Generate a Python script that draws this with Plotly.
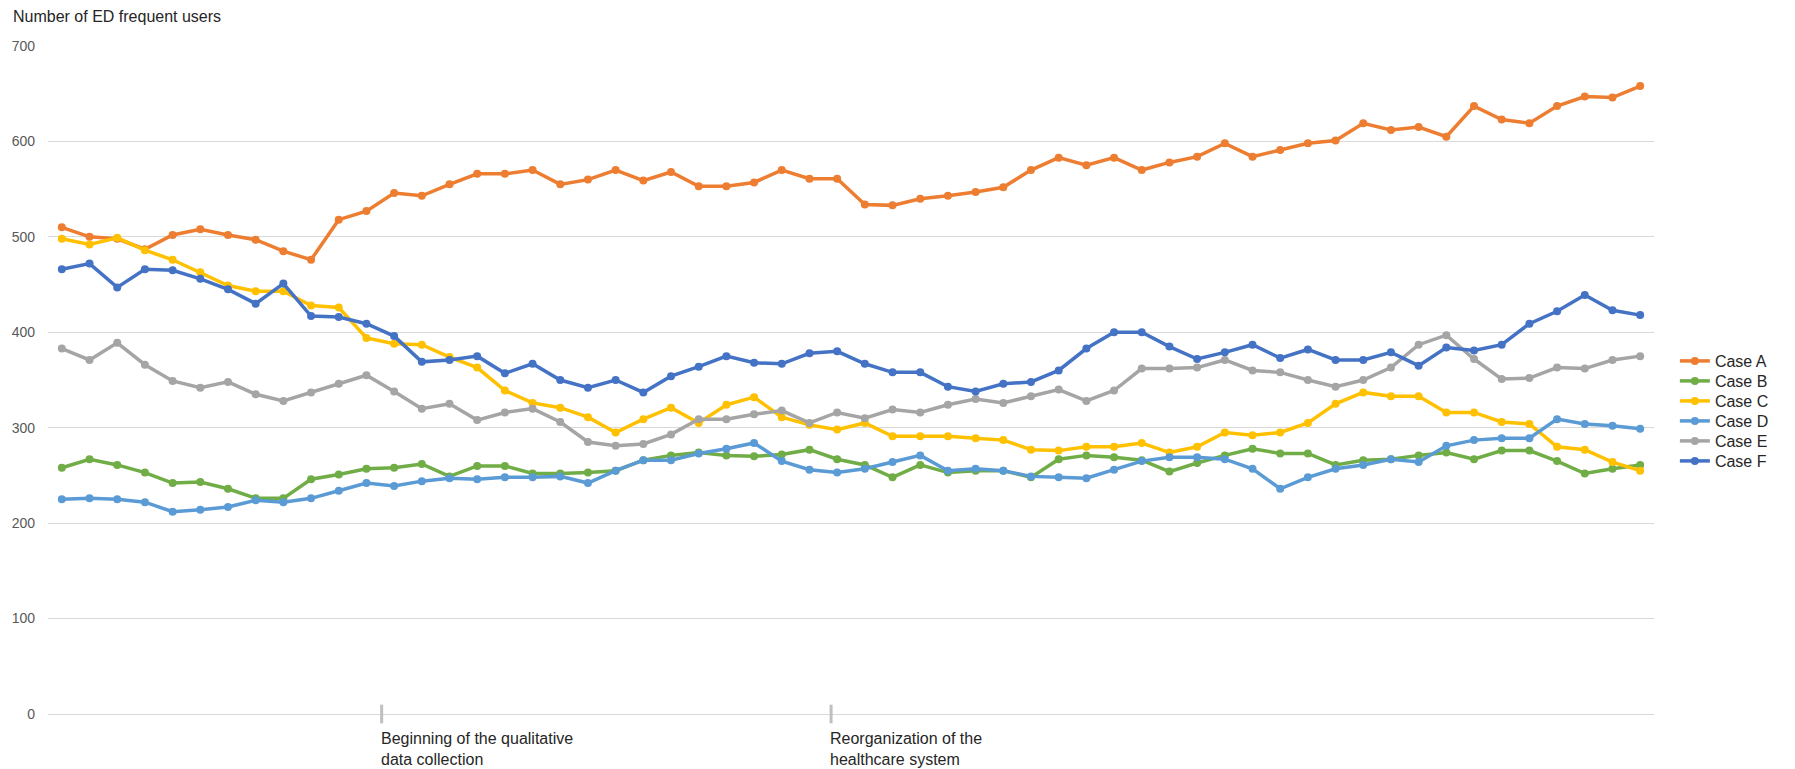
import plotly.graph_objects as go

# ---------------- data ----------------
periods = list(range(58))

case_a = [510, 500, 498, 487, 502, 508, 502, 497, 485, 476,
          518, 527, 546, 543, 555, 566, 566, 570, 555, 560,
          570, 559, 568, 553, 553, 557, 570, 561, 561, 534,
          533, 540, 543, 547, 552, 570, 583, 575, 583, 570,
          578, 584, 598, 584, 591, 598, 601, 619, 612, 615,
          605, 637, 623, 619, 637, 647, 646, 658]

case_b = [258, 267, 261, 253, 242, 243, 236, 226, 226, 246,
          251, 257, 258, 262, 249, 260, 260, 252, 252, 253,
          255, 266, 271, 274, 271, 270, 272, 277, 267, 261,
          248, 261, 253, 255, 255, 248, 267, 271, 269, 266,
          254, 263, 271, 278, 273, 273, 261, 266, 267, 271,
          274, 267, 276, 276, 265, 252, 257, 261]

case_c = [498, 492, 499, 486, 476, 463, 449, 443, 443, 428,
          426, 394, 388, 387, 374, 363, 339, 326, 321, 311,
          295, 309, 321, 305, 324, 332, 311, 303, 298, 305,
          291, 291, 291, 289, 287, 277, 276, 280, 280, 284,
          274, 280, 295, 292, 295, 305, 325, 337, 333, 333,
          316, 316, 306, 304, 280, 277, 264, 255]

case_d = [225, 226, 225, 222, 212, 214, 217, 224, 222, 226,
          234, 242, 239, 244, 247, 246, 248, 248, 249, 242,
          255, 266, 266, 273, 278, 284, 265, 256, 253, 257,
          264, 271, 255, 257, 255, 249, 248, 247, 256, 265,
          269, 269, 267, 257, 236, 248, 257, 261, 267, 264,
          281, 287, 289, 289, 309, 304, 302, 299]

case_e = [383, 371, 389, 366, 349, 342, 348, 335, 328, 337,
          346, 355, 338, 320, 325, 308, 316, 320, 306, 285,
          281, 283, 293, 309, 309, 314, 318, 305, 316, 310,
          319, 316, 324, 330, 326, 333, 340, 328, 339, 362,
          362, 363, 371, 360, 358, 350, 343, 350, 363, 387,
          397, 372, 351, 352, 363, 362, 371, 375]

case_f = [466, 472, 447, 466, 465, 456, 445, 430, 451, 417,
          416, 409, 396, 369, 371, 375, 357, 367, 350, 342,
          350, 337, 354, 364, 375, 368, 367, 378, 380, 367,
          358, 358, 343, 338, 346, 348, 360, 383, 400, 400,
          385, 372, 379, 387, 373, 382, 371, 371, 379, 365,
          384, 381, 387, 409, 422, 439, 423, 418]

series_names = ["Case A", "Case B", "Case C", "Case D", "Case E", "Case F"]
series_values = [case_a, case_b, case_c, case_d, case_e, case_f]

event_positions = [11.55, 27.78]
event_labels = ["Beginning of the qualitative<br>data collection",
                "Reorganization of the<br>healthcare system"]

# ---------------- style ----------------
colors = ["#ED7D31", "#70AD47", "#FFC000", "#5B9BD5", "#A5A5A5", "#4472C4"]
FONT = "Liberation Sans, Arial, sans-serif"

W, H = 1795, 769
M_L, M_R, M_T, M_B = 48, 141, 46, 55
plot_h = H - M_T - M_B

fig = go.Figure()
legend_layouts = {}
for i, (name, vals, col) in enumerate(zip(series_names, series_values, colors)):
    lg = "legend" if i == 0 else f"legend{i + 1}"
    fig.add_trace(go.Scatter(
        x=periods, y=vals, mode="lines+markers", name=name,
        line=dict(color=col, width=3.5),
        marker=dict(size=8, color=col),
        legend=lg, showlegend=True,
    ))
    y_px = 361 + 20 * i  # legend row centre in pixels from top
    legend_layouts[lg] = dict(
        x=1.013, xanchor="left",
        y=(H - M_B - y_px) / plot_h, yanchor="middle",
        font=dict(family=FONT, size=16, color="#262626"),
        bgcolor="rgba(0,0,0,0)",
    )

shapes = []
annotations = []
for pos, lab in zip(event_positions, event_labels):
    shapes.append(dict(type="line", xref="x", yref="paper",
                       x0=pos, x1=pos, y0=-0.014, y1=0.014,
                       line=dict(color="#bfbfbf", width=3)))
    annotations.append(dict(xref="x", yref="paper", x=pos, y=0,
                            xanchor="left", yanchor="top", yshift=-14, xshift=-3,
                            align="left", showarrow=False, text=lab,
                            font=dict(family=FONT, size=16, color="#262626")))

fig.update_layout(
    width=W, height=H,
    showlegend=True,
    margin=dict(l=M_L, r=M_R, t=M_T, b=M_B, autoexpand=False),
    paper_bgcolor="white", plot_bgcolor="white",
    font=dict(family=FONT),
    title=dict(text="Number of ED frequent users", x=13 / W, xanchor="left",
               y=1 - 16 / H, yanchor="middle",
               font=dict(family=FONT, size=16, color="#262626")),
    xaxis=dict(range=[-0.5, 57.5], showticklabels=False, showgrid=False,
               zeroline=False, ticks="", showline=False),
    yaxis=dict(range=[0, 700], dtick=100, tick0=0, gridcolor="#d9d9d9", gridwidth=1,
               zeroline=True, zerolinecolor="#d9d9d9", zerolinewidth=1,
               showline=False, ticks="", ticklabelstandoff=12,
               tickfont=dict(family=FONT, size=14, color="#595959")),
    shapes=shapes, annotations=annotations,
    hovermode=False,
    **legend_layouts,
)

fig.write_html("out.html")
